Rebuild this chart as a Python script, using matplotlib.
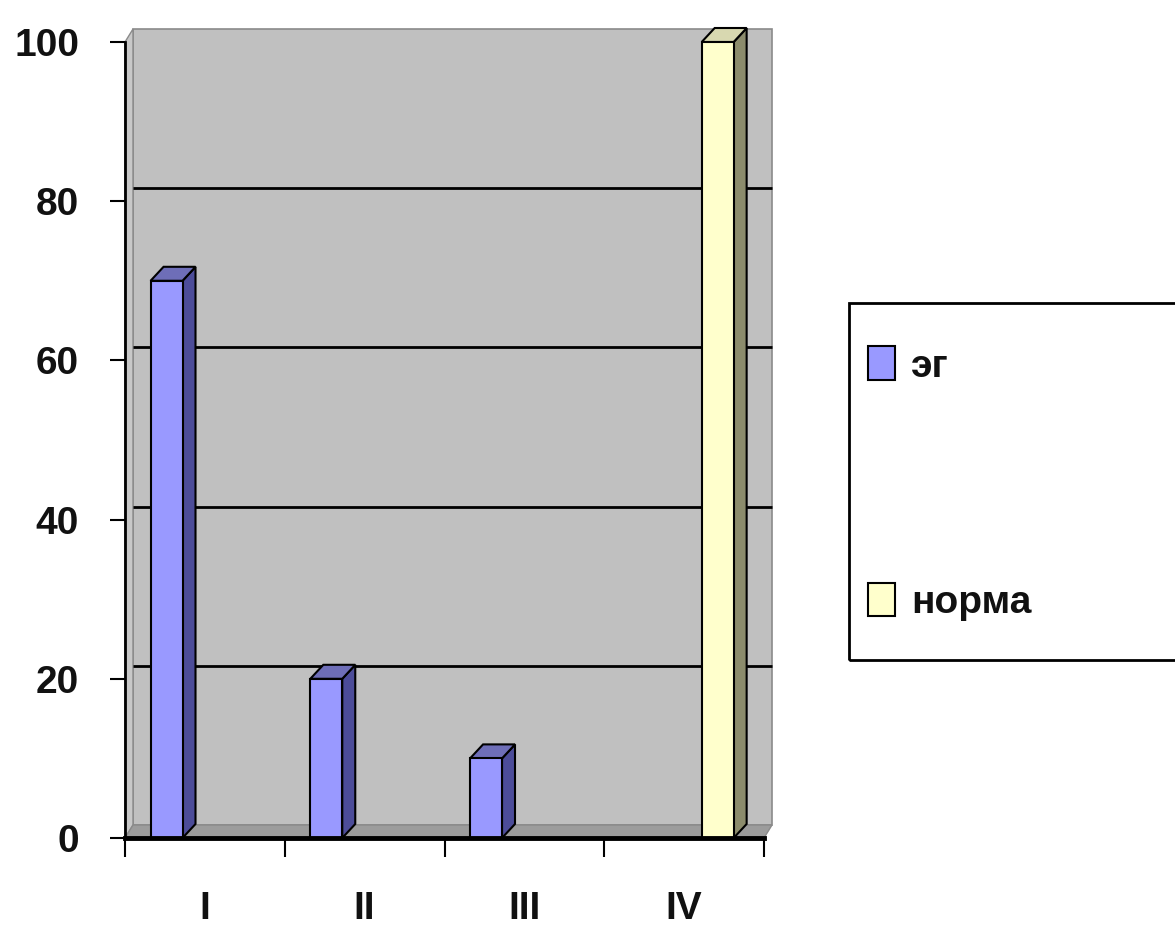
import matplotlib
matplotlib.use('Agg')
import matplotlib.pyplot as plt
from matplotlib.patches import Polygon, Rectangle

# ---- data ----
categories = ['I', 'II', 'III', 'IV']
series_names = ['эг', 'норма']
eg_values = [70, 20, 10, 0]
norma_values = [0, 0, 0, 100]
y_ticks = [0, 20, 40, 60, 80, 100]

plt.rcParams['font.family'] = ['Liberation Sans Narrow', 'Liberation Sans', 'DejaVu Sans']
plt.rcParams['font.weight'] = 'bold'
plt.rcParams['text.color'] = '#111111'

W, H = 1175, 931
FS = 28
fig = plt.figure(figsize=(W / 100, H / 100), dpi=100)
ax = fig.add_axes([125 / W, 93 / H, 639 / W, 796 / H])
ax.set_xlim(-0.5, len(categories) - 0.5)
ax.set_ylim(0, 100)
ax.patch.set_visible(False)

x0, x1 = ax.get_xlim()
y0, y1 = ax.get_ylim()
pos = ax.get_position()
ux = pos.width * W / (x1 - x0)   # px per x unit
uy = pos.height * H / (y1 - y0)  # px per y unit


def off(dx_px, dy_px):
    return dx_px / ux, dy_px / uy


# ---- 3D walls ----
wx, wy = off(8, 13)
ax.add_patch(Rectangle((x0 + wx, y0 + wy), x1 - x0, y1 - y0, fc='#c0c0c0', ec='#8a8a8a',
                       lw=1.2, clip_on=False, zorder=0.5))
ax.add_patch(Polygon([(x0, y0), (x0 + wx, y0 + wy), (x0 + wx, y1 + wy), (x0, y1)],
                     closed=True, fc='#c8c8c8', ec='#8a8a8a', lw=1.0, clip_on=False, zorder=0.6))
ax.add_patch(Polygon([(x0, y0), (x1, y0), (x1 + wx, y0 + wy), (x0 + wx, y0 + wy)],
                     closed=True, fc='#9c9c9c', ec='#8a8a8a', lw=1.0, clip_on=False, zorder=0.6))
for t in y_ticks[1:-1]:
    ax.plot([x0 + wx, x1 + wx], [t + wy, t + wy], color='black', lw=2.0,
            clip_on=False, zorder=1, solid_capstyle='butt')

# ---- bars ----
bar_w = 0.2
offsets = [-0.24, 0.21]
front_colors = ['#9999ff', '#ffffcc']
side_colors = ['#4c4c99', '#8c8c6c']
top_colors = ['#6e6eb8', '#d8d8b0']
bx, by = off(13, 14)
xs = range(len(categories))
for k, vals in enumerate([eg_values, norma_values]):
    lws = [1.5 if v > 0 else 0 for v in vals]
    bars = ax.bar([x + offsets[k] for x in xs], vals, bar_w, color=front_colors[k],
                  edgecolor='black', linewidth=lws, zorder=3, clip_on=False)
    for b, v in zip(bars, vals):
        if v <= 0:
            continue
        xl = b.get_x()
        xr = xl + b.get_width()
        ax.add_patch(Polygon([(xr, 0), (xr + bx, by), (xr + bx, v + by), (xr, v)], closed=True,
                             fc=side_colors[k], ec='black', lw=1.5, zorder=2.9, clip_on=False))
        ax.add_patch(Polygon([(xl, v), (xr, v), (xr + bx, v + by), (xl + bx, v + by)], closed=True,
                             fc=top_colors[k], ec='black', lw=1.5, zorder=2.9, clip_on=False))

# ---- axes / ticks ----
for s in ['top', 'right']:
    ax.spines[s].set_visible(False)
ax.spines['left'].set_linewidth(2.0)
ax.spines['bottom'].set_linewidth(3.5)
ax.spines['left'].set_zorder(5)
ax.spines['bottom'].set_zorder(5)

ax.set_yticks(y_ticks)
ax.set_yticklabels([str(t) for t in y_ticks])
ax.tick_params(axis='y', direction='out', length=11, width=1.5, pad=22, labelsize=FS,
               labelcolor='#111111')

ax.set_xticks([x - 0.5 for x in range(len(categories) + 1)])
ax.set_xticklabels([])
ax.set_xticks(list(xs), minor=True)
ax.set_xticklabels(categories, minor=True)
ax.tick_params(axis='x', which='major', direction='out', length=14, width=1.5)
ax.tick_params(axis='x', which='minor', length=0, pad=38, labelsize=FS, labelcolor='#111111')

# ---- legend ----
handles = [Rectangle((0, 0), 1, 1, fc=front_colors[k], ec='black', lw=1.5) for k in range(2)]
leg = fig.legend(handles, series_names, loc='upper left',
                 bbox_to_anchor=(849 / W, 1 - 327 / H), bbox_transform=fig.transFigure,
                 borderaxespad=0, frameon=False,
                 fontsize=FS, handlelength=0.69, handleheight=0.95, handletextpad=0.4,
                 labelspacing=5.09, borderpad=0.5)
fig.add_artist(Rectangle((849 / W, 1 - 660 / H), 0.5, 357 / H, transform=fig.transFigure,
                         fill=False, ec='black', lw=2.0, clip_on=False))

fig.savefig('out.png', dpi=100)
